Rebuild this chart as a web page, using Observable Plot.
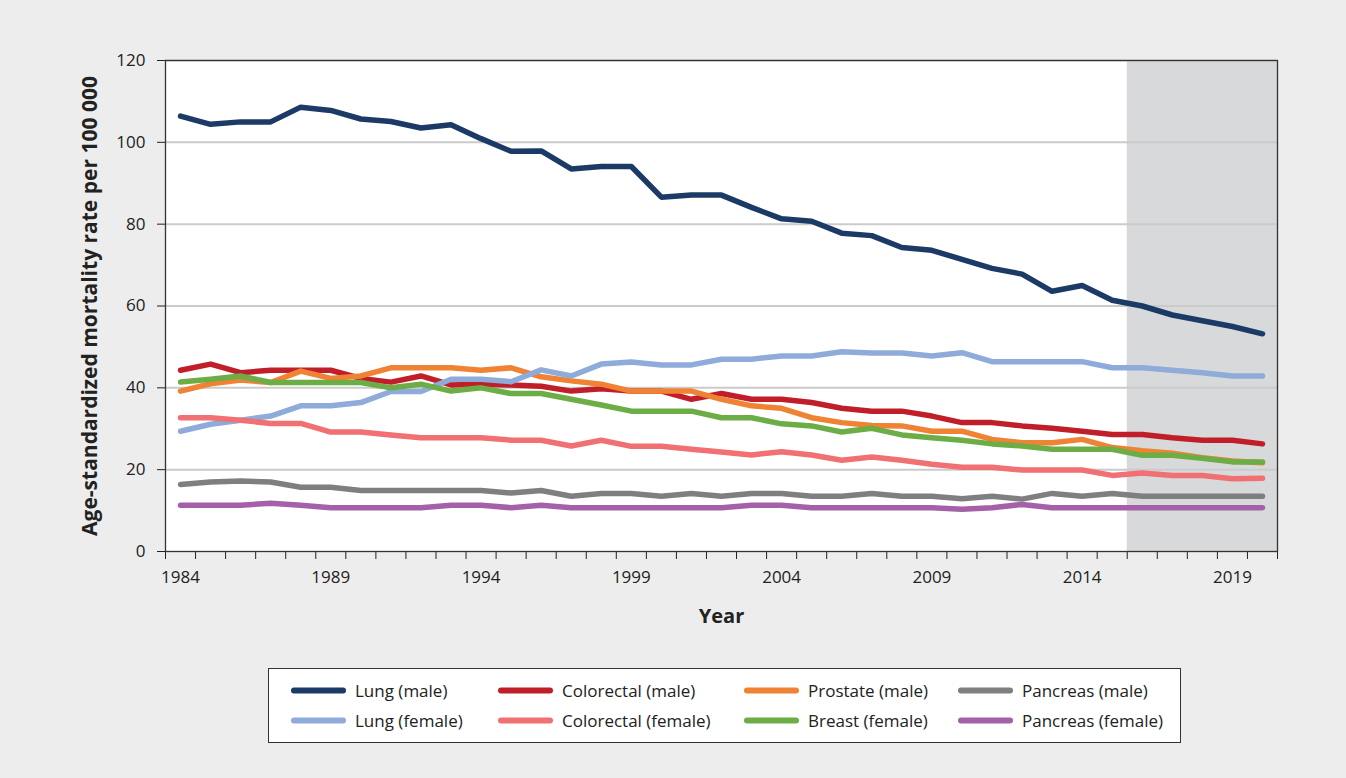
<!DOCTYPE html>
<html><head><meta charset="utf-8">
<script src="https://cdn.jsdelivr.net/npm/d3@7"></script>
<script src="https://cdn.jsdelivr.net/npm/@observablehq/plot@0.6"></script>
<style>
body{margin:0;background:#EDEDED;font-family:"Open Sans",Lato,sans-serif;}
#wrap{position:relative;width:1346px;height:778px;}
#legend{position:absolute;left:268px;top:668px;width:911px;height:73px;border:1.5px solid #333;background:#fff;}
.item{position:absolute;display:flex;align-items:center;font-size:17px;color:#222;transform:translateY(-50%);white-space:nowrap;}
.sw{width:55px;height:6px;border-radius:3px;margin-right:9px;}
</style></head><body><div id="wrap"><div id="chart"></div><div id="legend"></div></div>
<script>
const years = [1984,1985,1986,1987,1988,1989,1990,1991,1992,1993,1994,1995,1996,1997,1998,1999,2000,2001,2002,2003,2004,2005,2006,2007,2008,2009,2010,2011,2012,2013,2014,2015,2016,2017,2018,2019,2020];
const labelYears = [1984,1989,1994,1999,2004,2009,2014,2019];
const yTicks = [0,20,40,60,80,100,120];
const projectionYears = [2016, 2020];

const series = ["Lung (male)","Colorectal (male)","Prostate (male)","Pancreas (male)","Lung (female)","Colorectal (female)","Breast (female)","Pancreas (female)"];
const colors = ["#1B3A66","#C01F2A","#F08233","#7F7F82","#8EABDA","#F07074","#6DAD46","#A460A8"];

const lungMale = [106.4,104.4,105.0,105.0,108.6,107.8,105.7,105.1,103.5,104.3,100.9,97.8,97.9,
  93.5,94.1,94.1,86.6,87.1,87.1,84.1,81.3,80.7,77.8,77.2,74.3,
  73.6,71.4,69.2,67.8,63.6,65.0,61.4,60.0,57.8,56.4,55.0,53.2];
const colorectalMale = [44.3,45.8,43.7,44.3,44.3,44.3,42.3,41.4,42.9,40.7,40.9,40.7,40.4,
  39.2,39.8,39.2,39.2,37.2,38.6,37.2,37.2,36.4,35.0,34.3,34.3,
  33.1,31.5,31.5,30.7,30.1,29.4,28.6,28.6,27.8,27.2,27.2,26.3];
const prostateMale = [39.2,41.0,41.9,41.3,44.1,42.3,42.9,44.9,44.9,44.9,44.3,44.9,42.7,
  41.7,40.9,39.2,39.2,39.2,37.2,35.6,35.0,32.7,31.5,30.8,30.7,
  29.4,29.4,27.4,26.6,26.6,27.4,25.4,24.6,24.0,22.9,22.1,21.7];
const pancreasMale = [16.4,17.0,17.2,17.0,15.7,15.7,14.9,14.9,14.9,14.9,14.9,14.3,14.9,
  13.5,14.2,14.2,13.5,14.2,13.5,14.2,14.2,13.5,13.5,14.2,13.5,
  13.5,12.9,13.5,12.8,14.2,13.5,14.2,13.5,13.5,13.5,13.5,13.5];
const lungFemale = [29.4,31.1,32.1,33.1,35.6,35.6,36.4,39.1,39.1,42.1,42.1,41.5,44.4,
  42.9,45.8,46.3,45.6,45.6,47.0,47.0,47.8,47.8,48.8,48.5,48.5,
  47.8,48.6,46.4,46.4,46.4,46.4,44.9,44.9,44.3,43.7,42.9,42.9];
const colorectalFemale = [32.7,32.7,32.1,31.3,31.3,29.2,29.2,28.5,27.8,27.8,27.8,27.2,27.2,
  25.8,27.2,25.7,25.7,25.0,24.3,23.6,24.4,23.6,22.3,23.1,22.3,
  21.3,20.6,20.6,19.9,19.9,19.9,18.6,19.2,18.6,18.6,17.8,17.9];
const breastFemale = [41.4,42.1,42.9,41.3,41.3,41.3,41.3,40.0,40.9,39.2,40.0,38.6,38.6,
  37.2,35.8,34.3,34.3,34.3,32.7,32.7,31.2,30.7,29.2,30.1,28.5,
  27.8,27.2,26.3,25.8,25.0,25.0,25.0,23.5,23.5,22.8,21.9,21.9];
const pancreasFemale = [11.3,11.3,11.3,11.8,11.3,10.7,10.7,10.7,10.7,11.3,11.3,10.7,11.3,
  10.7,10.7,10.7,10.7,10.7,10.7,11.3,11.3,10.7,10.7,10.7,10.7,
  10.7,10.3,10.7,11.5,10.7,10.7,10.7,10.7,10.7,10.7,10.7,10.7];

const yLabel = "Age-standardized mortality rate per 100 000";
const xLabel = "Year";

const values = [lungMale,colorectalMale,prostateMale,pancreasMale,lungFemale,colorectalFemale,breastFemale,pancreasFemale];
const data = series.flatMap((s,i)=>years.map((yr,j)=>({series:s, year:yr, value:values[i][j]})));
const tickBounds = years.map(y=>y-0.5).concat([years[years.length-1]+0.5]);

const chart = Plot.plot({
  width:1346, height:650, marginLeft:165, marginRight:69, marginTop:60, marginBottom:99,
  style:{background:"transparent", fontFamily:"'Open Sans', Lato, sans-serif", fontSize:"17px", color:"#222"},
  x:{domain:[years[0]-0.5, years[years.length-1]+0.5]},
  y:{domain:[yTicks[0], yTicks[yTicks.length-1]]},
  color:{domain:series, range:colors},
  marks:[
    Plot.frame({fill:"white"}),
    Plot.rect([projectionYears], {x1:d=>d[0]-0.5, x2:d=>d[1]+0.5, fill:"#D8D9DB"}),
    Plot.ruleY(yTicks.filter(d=>d>0), {stroke:"#CBCBCB", strokeWidth:2}),
    Plot.axisY({ticks:yTicks, tickSize:8, tickPadding:12, label:null, fontSize:17}),
    Plot.axisX({ticks:tickBounds, tickSize:8, tickFormat:()=>"", label:null}),
    Plot.axisX({ticks:labelYears, tickSize:0, tickPadding:19, tickFormat:d=>String(d), label:null, fontSize:17}),
    Plot.line(data, {x:"year", y:"value", z:"series", stroke:"series", strokeWidth:5.5, strokeLinecap:"round", strokeLinejoin:"round"}),
    Plot.frame({stroke:"#333", strokeWidth:1.3}),
    Plot.text([yLabel], {text:d=>d, frameAnchor:"left", textAnchor:"middle", lineAnchor:"middle", rotate:-90, dx:-75, fontWeight:"bold", fontSize:21}),
    Plot.text([xLabel], {text:d=>d, frameAnchor:"bottom", textAnchor:"middle", lineAnchor:"middle", dy:65, fontWeight:"bold", fontSize:20})
  ]
});
document.getElementById("chart").appendChild(chart);

const legend = document.getElementById("legend");
const colX = [22,229,475,689];
const rowY = [21,51];
series.forEach((s,i)=>{
  const it = document.createElement("div");
  it.className = "item";
  it.style.left = colX[i%4] + "px";
  it.style.top = rowY[Math.floor(i/4)] + "px";
  const sw = document.createElement("span");
  sw.className = "sw";
  sw.style.background = colors[i];
  it.appendChild(sw);
  it.appendChild(document.createTextNode(s));
  legend.appendChild(it);
});
</script></body></html>
